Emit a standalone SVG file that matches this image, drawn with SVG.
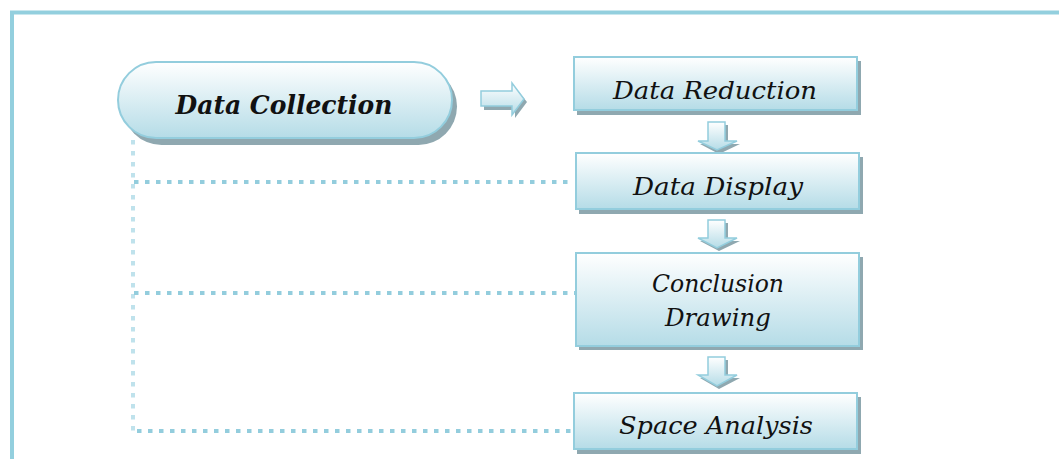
<svg xmlns="http://www.w3.org/2000/svg" width="1059" height="459" viewBox="0 0 1059 459">
  <defs>
    <linearGradient id="fillGrad" x1="0" y1="0" x2="0" y2="1">
      <stop offset="0" stop-color="#ffffff"/>
      <stop offset="1" stop-color="#b5dce7"/>
    </linearGradient>
    <style>
      .frame { fill: none; stroke: #93cfde; stroke-width: 4; }
      .shadow { fill: #8fa8b0; }
      .box { fill: url(#fillGrad); stroke: #93cddd; stroke-width: 2; }
      .arrow { fill: url(#fillGrad); stroke: #93cddd; stroke-width: 1.5; }
      .label { font-family: "DejaVu Serif", "Liberation Serif", serif; font-style: italic; font-size: 25px; fill: #111; text-anchor: middle; }
      .title { font-family: "DejaVu Serif", "Liberation Serif", serif; font-style: italic; font-weight: bold; font-size: 26px; fill: #111; text-anchor: middle; }
      .dots { fill: none; stroke: #93cddd; stroke-width: 4; stroke-dasharray: 4.5 6.5; }
      .dots-v { fill: none; stroke: #bfe2ec; stroke-width: 4; stroke-dasharray: 4.5 6.5; }
    </style>
  </defs>

  <!-- outer frame -->
  <rect class="frame" x="12" y="12.5" width="1100" height="500"/>

  <!-- dotted feedback lines -->
  <g id="connectors">
    <path class="dots-v" d="M133 140 V432"/>
    <path class="dots" d="M134 182 H573"/>
    <path class="dots" d="M134 293 H576"/>
    <path class="dots" d="M137 431 H574"/>

    <!-- block arrows -->
    <g id="arrow-right">
      <path class="shadow" d="M484 95 H515 V87 L527 102 L515 118 V110 H484 Z"/>
      <path class="arrow" d="M481 91 H512 V83 L524 99 L512 115 V106 H481 Z"/>
    </g>
    <g id="arrow-down-1">
      <path class="shadow" d="M710 125 H728 V144 H740 L719 154 L700 144 H710 Z"/>
      <path class="arrow" d="M708 122 H725 V141 H737 L717 150 L698 141 H708 Z"/>
    </g>
    <g id="arrow-down-2">
      <path class="shadow" d="M710 223 H728 V241 H740 L719 251 L700 241 H710 Z"/>
      <path class="arrow" d="M708 220 H725 V238 H737 L717 248 L698 238 H708 Z"/>
    </g>
    <g id="arrow-down-3">
      <path class="shadow" d="M710 360 H728 V378 H740 L719 389 L700 378 H710 Z"/>
      <path class="arrow" d="M708 357 H725 V375 H737 L717 386 L698 375 H708 Z"/>
    </g>
  </g>

  <g id="data-collection">
    <rect class="shadow" x="123" y="68" width="334" height="77" rx="38.5"/>
    <rect class="box" x="118" y="62" width="334" height="76" rx="38"/>
    <text class="title" x="284" y="114" textLength="217" lengthAdjust="spacingAndGlyphs">Data Collection</text>
  </g>

  <g id="data-reduction">
    <rect class="shadow" x="577" y="61" width="284" height="54"/>
    <rect class="box" x="574" y="57" width="283" height="53"/>
    <text class="label" x="715" y="99" textLength="204" lengthAdjust="spacingAndGlyphs">Data Reduction</text>
  </g>

  <g id="data-display">
    <rect class="shadow" x="579" y="157" width="284" height="57"/>
    <rect class="box" x="576" y="153" width="283" height="56"/>
    <text class="label" x="718" y="195" textLength="170" lengthAdjust="spacingAndGlyphs">Data Display</text>
  </g>

  <g id="conclusion-drawing">
    <rect class="shadow" x="579" y="257" width="284" height="93"/>
    <rect class="box" x="576" y="253" width="283" height="93"/>
    <text class="label" x="718" y="292" textLength="132" lengthAdjust="spacingAndGlyphs">Conclusion</text>
    <text class="label" x="718" y="326" textLength="106" lengthAdjust="spacingAndGlyphs">Drawing</text>
  </g>

  <g id="space-analysis">
    <rect class="shadow" x="577" y="397" width="284" height="57"/>
    <rect class="box" x="574" y="393" width="283" height="56"/>
    <text class="label" x="716" y="434" textLength="194" lengthAdjust="spacingAndGlyphs">Space Analysis</text>
  </g>
</svg>
